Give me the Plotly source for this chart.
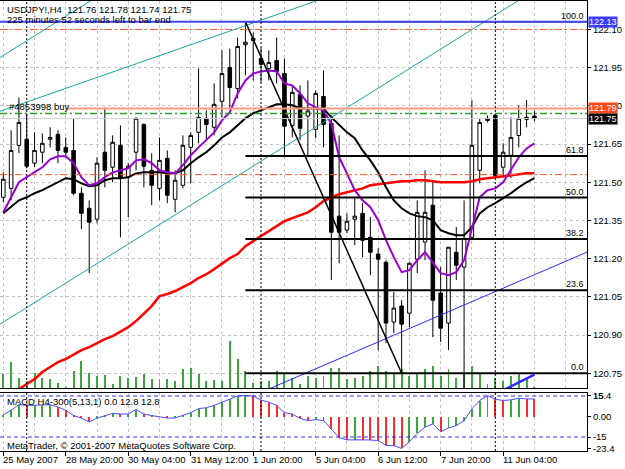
import plotly.graph_objects as go

# ---------------- data ----------------
BARS = list(range(69))
TIME_LABEL_BARS = [0, 8, 16, 24, 32, 40, 48, 56, 64]
TIME_LABELS = ["25 May 2007", "28 May 20:00", "30 May 04:00", "31 May 12:00", "1 Jun 20:00",
               "5 Jun 04:00", "6 Jun 12:00", "7 Jun 20:00", "11 Jun 04:00"]
WEEK_SEPARATORS = [3, 33, 63]

OPEN = [121.441, 121.476, 121.645, 121.669, 121.575, 121.618, 121.669, 121.688, 121.637, 121.625,
        121.457, 121.398, 121.355, 121.618, 121.559, 121.645, 121.520, 121.618, 121.727, 121.547,
        121.476, 121.594, 121.433, 121.488, 121.637, 121.696, 121.751, 121.716, 121.818, 121.951,
        121.868, 122.040, 122.065, 121.986, 121.947, 121.978, 121.927, 121.723, 121.845, 121.760,
        121.708, 121.837, 121.731, 121.367, 121.312, 121.355, 121.378, 121.284, 121.218, 121.186,
        120.951, 121.014, 120.986, 121.198, 121.265, 121.410, 121.065, 120.947, 121.225, 121.167,
        121.284, 121.547, 121.751, 121.763, 121.559, 121.606, 121.684, 121.755, 121.760]
HIGH = [121.539, 121.704, 121.833, 121.771, 121.696, 121.692, 121.716, 121.704, 121.676, 121.751,
        121.480, 121.429, 121.598, 121.794, 121.684, 121.723, 121.575, 121.755, 121.731, 121.614,
        121.676, 121.625, 121.547, 121.684, 121.696, 121.947, 121.782, 121.888, 122.018, 122.025,
        122.068, 122.130, 122.088, 122.029, 122.018, 122.068, 121.986, 121.880, 121.880, 121.900,
        121.861, 121.939, 121.763, 121.684, 121.378, 121.437, 121.418, 121.363, 121.241, 121.194,
        121.069, 121.037, 121.186, 121.429, 121.547, 121.500, 121.167, 121.245, 121.324, 121.429,
        121.822, 121.751, 121.763, 121.771, 121.653, 121.755, 121.802, 121.822, 121.780]
LOW = [121.421, 121.429, 121.614, 121.555, 121.559, 121.575, 121.637, 121.575, 121.598, 121.449,
       121.316, 121.143, 121.339, 121.480, 121.500, 121.284, 121.363, 121.547, 121.480, 121.410,
       121.429, 121.418, 121.382, 121.476, 121.496, 121.653, 121.665, 121.684, 121.755, 121.790,
       121.829, 121.920, 121.900, 121.892, 121.900, 121.888, 121.598, 121.676, 121.665, 121.598,
       121.673, 121.637, 121.116, 121.182, 121.300, 121.253, 121.206, 121.135, 120.841, 120.869,
       120.908, 120.750, 120.931, 121.143, 121.194, 120.892, 120.873, 120.841, 121.116, 120.600,
       121.272, 121.496, 121.735, 121.520, 121.520, 121.516, 121.637, 121.716, 121.740]
CLOSE = [121.512, 121.625, 121.735, 121.563, 121.625, 121.653, 121.676, 121.625, 121.618, 121.457,
         121.378, 121.343, 121.575, 121.547, 121.657, 121.520, 121.563, 121.751, 121.563, 121.488,
         121.586, 121.449, 121.508, 121.645, 121.684, 121.755, 121.727, 121.806, 121.927, 121.872,
         122.033, 122.050, 122.057, 121.963, 121.970, 121.935, 121.720, 121.853, 121.712, 121.780,
         121.849, 121.727, 121.304, 121.304, 121.347, 121.367, 121.272, 121.225, 121.198, 120.947,
         121.006, 120.943, 121.182, 121.382, 121.382, 121.037, 120.927, 121.245, 121.174, 121.280,
         121.645, 121.735, 121.743, 121.527, 121.618, 121.676, 121.751, 121.747, 121.750]

MA_FAST = [121.382, 121.441, 121.500, 121.520, 121.539, 121.559, 121.590, 121.602, 121.602, 121.575,
           121.520, 121.488, 121.496, 121.520, 121.539, 121.547, 121.555, 121.586, 121.590,
           121.575, 121.547, 121.539, 121.535, 121.567, 121.606, 121.637, 121.665, 121.696, 121.743,
           121.775, 121.849, 121.900, 121.927, 121.935, 121.939, 121.935, 121.888, 121.880,
           121.849, 121.810, 121.794, 121.782, 121.731, 121.598, 121.535, 121.469, 121.429, 121.402,
           121.351, 121.273, 121.206, 121.147, 121.155, 121.194, 121.226, 121.182, 121.143,
           121.135, 121.147, 121.194, 121.312, 121.441, 121.469, 121.476, 121.500, 121.547, 121.598,
           121.633, 121.653]
MA_MID = [121.378, 121.402, 121.429, 121.441, 121.457, 121.469, 121.484, 121.500, 121.516, 121.512,
          121.496, 121.484, 121.488, 121.508, 121.516, 121.516, 121.520, 121.535, 121.539,
          121.539, 121.539, 121.535, 121.535, 121.547, 121.575, 121.598, 121.618, 121.645, 121.676,
          121.696, 121.724, 121.751, 121.771, 121.782, 121.794, 121.806, 121.806, 121.802,
          121.790, 121.790, 121.790, 121.790, 121.755, 121.724, 121.696, 121.673, 121.625, 121.586,
          121.539, 121.480, 121.429, 121.398, 121.378, 121.367, 121.363, 121.351, 121.312, 121.300,
          121.292, 121.292, 121.324, 121.378, 121.402, 121.418, 121.437, 121.457, 121.480, 121.500,
          121.516]
MA_SLOW = [120.653, 120.669, 120.688, 120.708, 120.727, 120.755, 120.775, 120.794, 120.806, 120.822,
           120.841, 120.853, 120.869, 120.884, 120.896, 120.912, 120.931, 120.955, 120.986, 121.014,
           121.053, 121.061, 121.073, 121.088, 121.104, 121.124, 121.139, 121.159, 121.182, 121.202,
           121.218, 121.249, 121.269, 121.288, 121.308, 121.327, 121.347, 121.359, 121.371, 121.382,
           121.402, 121.426, 121.441, 121.453, 121.461, 121.469, 121.476, 121.488, 121.492, 121.496,
           121.500, 121.504, 121.504, 121.508, 121.508, 121.504, 121.500, 121.500, 121.500, 121.500,
           121.504, 121.512, 121.516, 121.520, 121.524, 121.527, 121.531, 121.535, 121.535]

VOLUME = [1500, 2700, 1100, 800, 1600, 1100, 1000, 600, 200, 1800, 2800, 1600, 1300, 1400, 500,
          1300, 1100, 1200, 1500, 1000, 1000, 1000, 800, 2000, 2100, 1500, 800, 900, 800, 4800,
          3000, 1800, 600, 800, 800, 1800, 1600, 1100, 500, 1300, 1100, 1300, 2100, 2100, 1000,
          1100, 1300, 1800, 2300, 1800, 1600, 2000, 1300, 1600, 2000, 2300, 1300, 2000, 1100,
          1500, 2300, 1600, 500, 1100, 800, 1300, 1500, 1100, 200]

MACD = [1.2, 4.6, 8.7, 8.1, 8.2, 8.4, 8.7, 6.9, 4.6, 0.7, -1.2, -3.9, -1.2, 0.5, 2.3, 1.8, 1.9,
        5.1, 1.8, 0.7, 0.0, -1.2, -1.1, 0.7, 2.8, 5.8, 6.4, 8.1, 10.4, 12.7, 15.0, 15.4, 15.0,
        12.0, 10.4, 8.1, 2.8, 1.8, -1.4, -3.0, -2.3, -3.0, -8.9, -15.5, -17.1, -16.9, -17.1,
        -17.2, -17.6, -21.1, -21.3, -23.4, -18.3, -12.4, -7.7, -5.4, -11.2, -8.4, -6.6, -3.0,
        5.6, 11.7, 15.3, 12.6, 11.7, 12.2, 13.3, 12.9, 12.8]
MACD_LEVELS = [15, -15]
MACD_TICKS = [15.4, 15, 0, -15, -23.4]
MACD_TICK_TEXT = ["15.4", "15", "0.00", "-15", "-23.4"]

PRICE_TICKS = [122.10, 121.95, 121.80, 121.65, 121.50, 121.35, 121.20, 121.05, 120.90, 120.75]

HLINE_PRICE = 122.13
TP_PRICE = 122.10
SL_PRICE = 121.53
ASK_PRICE = 121.79
ORDER_PRICE = 121.77
BID_PRICE = 121.75

FIB_HIGH_BAR, FIB_HIGH = 31, 122.13
FIB_LOW_BAR, FIB_LOW = 51, 120.75
FIB_LEVELS = [0.0, 23.6, 38.2, 50.0, 61.8, 100.0]

# trend lines: (bar1, price1, bar2, price2)
TEAL_LINES = [(0, 121.998, 10, 122.190), (0, 121.783, 38, 122.190), (0, 120.951, 64, 122.176)]
BLUE_LINE = (37, 120.728, 74, 121.216)
BLUE_SEGMENT = (63, 120.668, 68, 120.745)

# ---------------- layout geometry ----------------
W, H = 625, 469
PLOT_RIGHT = 587
MAIN_TOP, MAIN_BOTTOM = 0.5, 388
SUB_TOP, SUB_BOTTOM = 393, 451
BAR_PX = 7.81
X0_PX = 3.3
X_LO = -X0_PX / BAR_PX
X_HI = (PLOT_RIGHT - X0_PX) / BAR_PX
P_TOP, P_BOT = 122.2137, 120.6922
M_TOP, M_BOT = 17.19, -25.24
VOL_MAX = 38800

FONT = "Liberation Sans"
FS = 9
GREEN = "#3aa83a"
RED = "#ff2a2a"
GRID = "#c4c4c4"


def py(px):
    return 1 - px / H


fig = go.Figure()

# volumes (base y axis, under everything)
fig.add_trace(go.Bar(x=BARS, y=VOLUME, width=0.12, marker=dict(color=GREEN, line=dict(width=0)),
                     xaxis="x", yaxis="y", hoverinfo="skip"))

# candles
fig.add_trace(go.Candlestick(
    x=BARS, open=OPEN, high=HIGH, low=LOW, close=CLOSE, xaxis="x", yaxis="y3",
    increasing=dict(line=dict(color="black", width=1), fillcolor="white"),
    decreasing=dict(line=dict(color="black", width=1), fillcolor="black"),
    whiskerwidth=0, hoverinfo="skip"))

# moving averages
fig.add_trace(go.Scatter(x=BARS, y=MA_SLOW, mode="lines", line=dict(color="#ff0000", width=2.5),
                         xaxis="x", yaxis="y3", hoverinfo="skip"))
fig.add_trace(go.Scatter(x=BARS, y=MA_MID, mode="lines", line=dict(color="black", width=2),
                         xaxis="x", yaxis="y3", hoverinfo="skip"))
fig.add_trace(go.Scatter(x=BARS, y=MA_FAST, mode="lines", line=dict(color="#9a00d0", width=2),
                         xaxis="x", yaxis="y3", hoverinfo="skip"))


def ray(b1, p1, b2, p2):
    k = (p2 - p1) / (b2 - b1)
    return [X_LO, X_HI], [p1 + k * (X_LO - b1), p1 + k * (X_HI - b1)]


for ln in TEAL_LINES:
    xs, ys = ray(*ln)
    fig.add_trace(go.Scatter(x=xs, y=ys, mode="lines", line=dict(color="#1aa3a3", width=1),
                             xaxis="x", yaxis="y3", hoverinfo="skip"))
xs, ys = ray(*BLUE_LINE)
fig.add_trace(go.Scatter(x=xs, y=ys, mode="lines", line=dict(color="#2a2aff", width=1),
                         xaxis="x", yaxis="y3", hoverinfo="skip"))
b1, p1, b2, p2 = BLUE_SEGMENT
fig.add_trace(go.Scatter(x=[b1, b2], y=[p1, p2], mode="lines", line=dict(color="#2a2aff", width=2.5),
                         xaxis="x", yaxis="y3", hoverinfo="skip"))

# horizontal lines
fig.add_shape(type="line", xref="x domain", x0=0, x1=1, yref="y3", y0=HLINE_PRICE, y1=HLINE_PRICE,
              line=dict(color="#4646ff", width=2))
for pr in (TP_PRICE, SL_PRICE):
    fig.add_shape(type="line", xref="x domain", x0=0, x1=1, yref="y3", y0=pr, y1=pr,
                  line=dict(color="#ff5a28", width=1, dash="7px,3px,2px,3px"))
fig.add_shape(type="line", xref="x domain", x0=0, x1=1, yref="y3", y0=BID_PRICE, y1=BID_PRICE,
              line=dict(color="#d0d0d0", width=1))
fig.add_shape(type="line", xref="x domain", x0=0, x1=1, yref="y3", y0=ORDER_PRICE, y1=ORDER_PRICE,
              line=dict(color="#2f9f2f", width=1.5, dash="7px,3px,2px,3px"))
fig.add_shape(type="line", xref="x domain", x0=0.113, x1=1, yref="y3", y0=ASK_PRICE, y1=ASK_PRICE,
              line=dict(color="#ff9a80", width=2))

# fibonacci
rng = FIB_HIGH - FIB_LOW
for lv in FIB_LEVELS:
    pr = FIB_LOW + rng * lv / 100.0
    fig.add_trace(go.Scatter(x=[FIB_HIGH_BAR, X_HI], y=[pr, pr], mode="lines",
                             line=dict(color="black", width=2 if lv != 100.0 else 1.5),
                             xaxis="x", yaxis="y3", hoverinfo="skip"))
    fig.add_annotation(xref="x domain", x=1, xanchor="right", xshift=-1, yref="y3", y=pr,
                       yanchor="bottom", yshift=-1, text="%.1f" % lv, showarrow=False,
                       font=dict(family=FONT, size=FS, color="black"))
fig.add_trace(go.Scatter(x=[FIB_HIGH_BAR, FIB_LOW_BAR], y=[FIB_HIGH, FIB_LOW], mode="lines",
                         line=dict(color="black", width=1.5), xaxis="x", yaxis="y3", hoverinfo="skip"))

# MACD
mcol = [GREEN if (i == 0 or MACD[i] > MACD[i - 1]) else RED for i in range(len(MACD))]
fig.add_trace(go.Bar(x=BARS, y=MACD, width=0.12, marker=dict(color=mcol, line=dict(width=0)),
                     xaxis="x2", yaxis="y2", hoverinfo="skip"))
fig.add_trace(go.Scatter(x=BARS, y=MACD, mode="lines", line=dict(color="#4d4dff", width=1),
                         xaxis="x2", yaxis="y2", hoverinfo="skip"))
for lv in MACD_LEVELS:
    fig.add_shape(type="line", xref="x2 domain", x0=0, x1=1, yref="y2", y0=lv, y1=lv,
                  line=dict(color="#3030ff", width=1, dash="4px,3px"))

# week separators
for b in WEEK_SEPARATORS:
    fig.add_shape(type="line", xref="x", x0=b, x1=b, yref="y domain", y0=0, y1=1,
                  line=dict(color="black", width=1, dash="2px,2px"))
    fig.add_shape(type="line", xref="x2", x0=b, x1=b, yref="y2 domain", y0=0, y1=1,
                  line=dict(color="black", width=1, dash="2px,2px"))

# time labels
for b, t in zip(TIME_LABEL_BARS, TIME_LABELS):
    fig.add_annotation(xref="x2", x=b, xanchor="left", xshift=-2, yref="paper", y=py(452),
                       yanchor="top", text=t, showarrow=False,
                       font=dict(family=FONT, size=FS + 0.5, color="black"))

# price boxes
for pr, bg in ((HLINE_PRICE, "#3c3cff"), (ASK_PRICE, "#ff4a1c"), (BID_PRICE, "black")):
    fig.add_annotation(xref="paper", x=PLOT_RIGHT / W, xanchor="left", xshift=1, yref="y3", y=pr,
                       yanchor="middle", text="%.2f" % pr, showarrow=False, bgcolor=bg,
                       borderpad=0, font=dict(family=FONT, size=FS, color="white"))

# texts
texts = [
    ("USDJPY!,H4  121.76 121.78 121.74 121.75", 5, 9),
    ("225 minutes 52 seconds left to bar end", 5, 20),
    ("#4853998 buy", 7, 106),
    ("MACD H4-300(5,13,1) 0.0 12.8 12.8", 5, 401),
    ("MetaTrader, \u00a9 2001-2007 MetaQuotes Software Corp.", 5, 445),
]
for t, xp, yp in texts:
    fig.add_annotation(xref="paper", x=xp / W, xanchor="left", yref="paper", y=py(yp),
                       yanchor="middle", text=t, showarrow=False,
                       font=dict(family=FONT, size=FS + 0.5, color="black"))

axis_common = dict(showline=True, mirror=True, linecolor="black", linewidth=1, zeroline=False)

fig.update_layout(
    width=W, height=H, margin=dict(l=0, r=0, t=0, b=0),
    paper_bgcolor="white", plot_bgcolor="white", showlegend=False,
    boxgap=0.35, bargap=0,
    xaxis=dict(domain=[0, PLOT_RIGHT / W], range=[X_LO, X_HI], anchor="y",
               tickmode="array", tickvals=list(range(0, 73, 4)), showticklabels=False, ticks="",
               showgrid=True, gridcolor=GRID, griddash="3px,3px", gridwidth=1,
               rangeslider=dict(visible=False), **axis_common),
    yaxis=dict(domain=[py(MAIN_BOTTOM), py(MAIN_TOP)], range=[0, VOL_MAX], visible=False,
               anchor="x"),
    yaxis3=dict(domain=[py(MAIN_BOTTOM), py(MAIN_TOP)], range=[P_BOT, P_TOP], overlaying="y",
                side="right", anchor="x", tickmode="array", tickvals=PRICE_TICKS,
                ticktext=["%.2f" % v for v in PRICE_TICKS], ticks="outside", ticklen=3,
                tickcolor="black", tickfont=dict(family=FONT, size=FS + 0.5, color="black"),
                ticklabelstandoff=0,
                showgrid=True, gridcolor=GRID, griddash="3px,3px", gridwidth=1,
                automargin=False, **axis_common),
    xaxis2=dict(domain=[0, PLOT_RIGHT / W], range=[X_LO, X_HI], anchor="y2", matches="x",
                tickmode="array", tickvals=TIME_LABEL_BARS, showticklabels=False,
                ticks="outside", ticklen=4, tickcolor="black",
                showgrid=True, gridcolor=GRID, griddash="3px,3px",
                minor=dict(tickmode="array", tickvals=list(range(4, 73, 8)), showgrid=True,
                           gridcolor=GRID, griddash="3px,3px", ticks=""),
                rangeslider=dict(visible=False), **axis_common),
    yaxis2=dict(domain=[py(SUB_BOTTOM), py(SUB_TOP)], range=[M_BOT, M_TOP], anchor="x2",
                side="right", tickmode="array", tickvals=MACD_TICKS, ticktext=MACD_TICK_TEXT,
                ticks="outside", ticklen=3, tickcolor="black", ticklabelstandoff=0,
                tickfont=dict(family=FONT, size=FS + 0.5, color="black"), showgrid=False,
                automargin=False, **axis_common),
)

fig.write_html("out.html")
